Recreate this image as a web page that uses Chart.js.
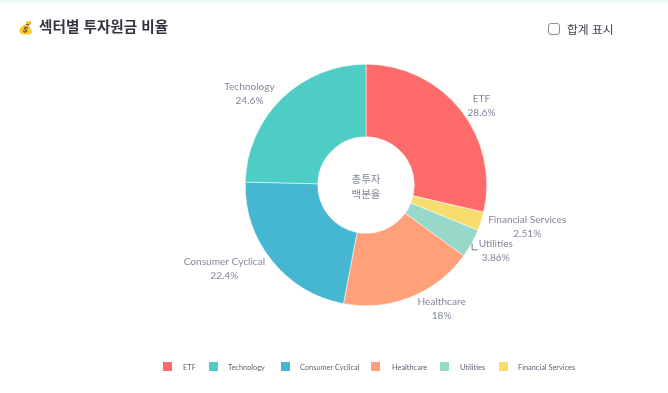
<!DOCTYPE html>
<html lang="ko">
<head>
<meta charset="utf-8">
<title>섹터별 투자원금 비율</title>
<script src="https://cdn.jsdelivr.net/npm/chart.js@4"></script>
<style>
    html, body { margin: 0; padding: 0; background: #fff; }
    #wrap { position: relative; width: 668px; height: 393px; overflow: hidden; font-family: "Noto Sans CJK KR", "Noto Sans", sans-serif; }
    #topBand { position: absolute; left: 0; top: 0; width: 668px; height: 3px; background: #eef8f6; }
    #title { position: absolute; left: 18px; top: 14px; font-size: 14.6px; line-height: 24px; font-weight: 700; color: #31333f; white-space: nowrap; }
    #title b { font-size: 12.5px; font-weight: 400; margin-right: 1px; }
    #total { position: absolute; left: 548px; top: 19px; font-size: 11.8px; line-height: 20px; color: #3d4350; white-space: nowrap; }
    #total input { position: absolute; left: 0; top: 4px; margin: 0; width: 12px; height: 12px; appearance: none; box-sizing: border-box; border: 1px solid #8d8f96; border-radius: 3px; background: #fff; }
    #total span { margin-left: 19px; }
    #chart { position: absolute; left: 0; top: 0; }
    #legend { position: absolute; left: 0; top: 362px; font-family: Lato, sans-serif; font-size: 7.4px; color: #5f6472; }
    #legend i { position: absolute; top: 0; width: 9px; height: 9px; }
    #legend span { position: absolute; top: 0; line-height: 12px; white-space: nowrap; }
</style>
</head>
<body>
<div id="wrap">
    <div id="topBand"></div>
    <canvas id="chart" width="668" height="393"></canvas>
    <div id="title"><b>💰</b> 섹터별 투자원금 비율</div>
    <label id="total"><input type="checkbox"><span>합계 표시</span></label>
    <div id="legend"></div>
</div>
<script>
// 도넛은 12시 방향부터 시계 방향으로 그린다
const sectors = ['ETF', 'Financial Services', 'Utilities', 'Healthcare', 'Consumer Cyclical', 'Technology'];
const shares = [28.6, 2.51, 3.86, 18, 22.4, 24.6];
const shareLabels = ['28.6%', '2.51%', '3.86%', '18%', '22.4%', '24.6%'];
const colors = ['#FF6B6B', '#F7DC6F', '#98D8C8', '#FFA07A', '#45B7D1', '#4ECDC4'];
const legendOrder = ['ETF', 'Technology', 'Consumer Cyclical', 'Healthcare', 'Utilities', 'Financial Services'];
const legendSwatchX = [163, 209, 281, 371, 440, 499];
const legendTextX = [183, 228, 300, 392, 460, 518];
const centerLines = ['총투자', '백분율'];
const leaderSectors = ['Utilities'];

const labelFont = '10.1px Lato, "Noto Sans CJK KR", sans-serif';
const labelColor = '#83889c';

// 조각 바깥쪽 라벨과 도넛 가운데 글자
const sliceLabels = {
    id: 'sliceLabels',
    afterDatasetsDraw(chart) {
        const ctx = chart.ctx;
        const arcs = chart.getDatasetMeta(0).data;
        ctx.save();
        ctx.font = labelFont;
        ctx.fillStyle = labelColor;
        ctx.textBaseline = 'middle';
        arcs.forEach((arc, i) => {
            const mid = (arc.startAngle + arc.endAngle) / 2;
            const px = arc.x + Math.cos(mid) * arc.outerRadius;
            const py = arc.y + Math.sin(mid) * arc.outerRadius;
            const side = Math.cos(mid) >= 0 ? 1 : -1;
            const width = Math.max(ctx.measureText(sectors[i]).width, ctx.measureText(shareLabels[i]).width);
            const cx = px + side * (7 + width / 2);
            const cy = py + Math.sin(mid) * 10 + 2;
            ctx.textAlign = 'center';
            ctx.fillText(sectors[i], cx, cy - 7);
            ctx.fillText(shareLabels[i], cx, cy + 7);
            if (leaderSectors.includes(sectors[i])) {
                ctx.save();
                ctx.strokeStyle = '#6f7488';
                ctx.lineWidth = 1;
                ctx.beginPath();
                ctx.moveTo(px + 0.5, py);
                ctx.lineTo(px + 0.5, cy - 0.5);
                ctx.lineTo(px + 6, cy - 0.5);
                ctx.stroke();
                ctx.restore();
            }
        });
        const c = arcs[0];
        ctx.textAlign = 'center';
        ctx.font = '10.5px "Noto Sans CJK KR", sans-serif';
        ctx.fillText(centerLines[0], c.x, c.y - 6);
        ctx.fillText(centerLines[1], c.x, c.y + 9);
        ctx.restore();
    }
};

new Chart(document.getElementById('chart'), {
    type: 'doughnut',
    data: {
        labels: sectors,
        datasets: [{
            data: shares,
            backgroundColor: colors,
            borderColor: '#ffffff',
            borderWidth: 0.5,
            hoverOffset: 0
        }]
    },
    options: {
        responsive: false,
        animation: false,
        cutout: '40%',
        layout: { padding: { left: 64, right: 0, top: 64, bottom: 87 } },
        plugins: { legend: { display: false }, tooltip: { enabled: false } }
    },
    plugins: [sliceLabels]
});

const legendBox = document.getElementById('legend');
legendOrder.forEach((name, i) => {
    const swatch = document.createElement('i');
    swatch.style.left = legendSwatchX[i] + 'px';
    swatch.style.background = colors[sectors.indexOf(name)];
    const text = document.createElement('span');
    text.style.left = legendTextX[i] + 'px';
    text.textContent = name;
    legendBox.append(swatch, text);
});
</script>
</body>
</html>
